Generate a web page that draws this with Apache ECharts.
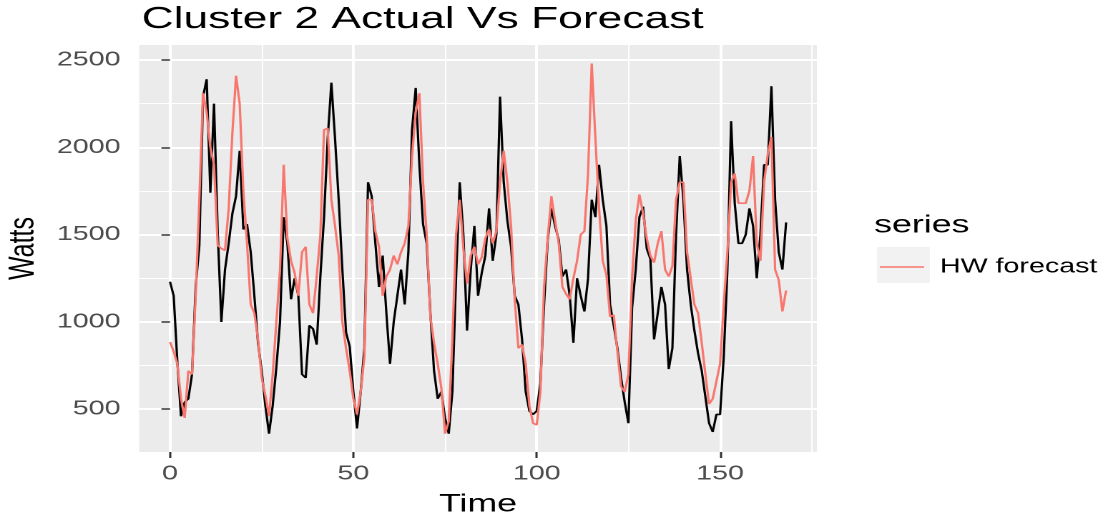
<!DOCTYPE html>
<html><head><meta charset="utf-8">
<script src="https://cdn.jsdelivr.net/npm/echarts@6/dist/echarts.min.js"></script>
<style>
html,body{margin:0;padding:0;background:#fff;overflow:hidden;width:1113px;height:521px;}
#chart{width:778px;height:521px;transform:scaleX(1.4306);transform-origin:0 0;}
</style></head><body><div id="chart"></div>
<script>
const actual = [
1230,1150,770,460,540,560,700,1200,1440,2290,
2390,1740,2250,1520,1000,1300,1450,1620,1720,1980,
1530,1560,1400,1150,880,720,520,360,520,740,
1000,1600,1450,1130,1250,1150,700,680,980,960,
870,1260,1600,2050,2370,2050,1700,1300,940,860,
600,390,600,850,1800,1720,1450,1200,1380,1050,
760,1000,1150,1300,1100,1400,2100,2340,1900,1560,
1450,1050,720,560,600,450,360,600,1250,1800,
1500,950,1300,1550,1150,1280,1380,1650,1350,1500,
2290,1800,1580,1430,1150,1100,900,600,490,470,
490,650,1100,1470,1650,1550,1470,1260,1300,1150,
880,1250,1150,1060,1250,1700,1600,1900,1700,1550,
1100,980,850,680,540,420,1080,1300,1600,1660,
1420,1360,900,1050,1200,1100,730,850,1500,1950,
1700,1300,1100,950,820,720,570,420,370,470,
470,800,1300,2150,1680,1450,1450,1500,1650,1550,
1250,1500,1900,1900,2350,1700,1400,1300,1570
];
const forecast = [
885,830,760,560,450,720,700,1150,1700,2310,
2200,2000,1900,1440,1420,1410,1650,2080,2410,2250,
1750,1450,1100,1050,900,680,580,460,700,1000,
1300,1900,1480,1350,1280,1150,1400,1430,1100,1050,
1260,1500,2100,2110,1700,1550,1380,1000,850,720,
560,470,600,800,1700,1700,1520,1430,1150,1260,
1300,1380,1330,1400,1450,1550,1950,2200,2310,1800,
1500,1030,880,760,620,360,430,900,1500,1700,
1420,1220,1380,1430,1330,1370,1480,1530,1450,1520,
1800,1980,1800,1550,1130,850,870,760,520,420,
410,600,1200,1480,1720,1580,1450,1200,1160,1130,
1250,1350,1500,1520,1850,2480,2050,1650,1350,1270,
1030,1040,830,630,600,700,1250,1580,1730,1620,
1480,1380,1340,1450,1520,1300,1260,1320,1700,1800,
1800,1400,1250,1100,1050,880,700,530,560,660,
760,1100,1400,1800,1850,1680,1680,1680,1750,1950,
1450,1350,1800,1960,2060,1300,1240,1060,1180
];
const xTicks = [0, 50, 100, 150];
const xMinor = [25, 75, 125, 175];
const yTicks = [500, 1000, 1500, 2000, 2500];
const yMinor = [750, 1250, 1750, 2250];
const titleText = 'Cluster 2 Actual Vs Forecast';
const xName = 'Time';
const yName = 'Watts';
const legendTitle = 'series';
const forecastName = 'HW forecast';

const FONT = '"Liberation Sans", Arial, sans-serif';
const plain = v => String(v);
const chart = echarts.init(document.getElementById('chart'), null, {devicePixelRatio: 2});
chart.setOption({
  animation: false,
  backgroundColor: '#ffffff',
  title: [
    {text: titleText, left: 99, top: 4, padding: 0,
     textStyle: {fontFamily: FONT, fontSize: 31, fontWeight: 'normal', color: '#000'}},
    {text: legendTitle, left: 611, top: 213, padding: 0,
     textStyle: {fontFamily: FONT, fontSize: 25, fontWeight: 'normal', color: '#000'}}
  ],
  graphic: [
    {type: 'rect', left: 613, top: 247, z: 0, shape: {width: 37, height: 36}, style: {fill: '#F2F2F2'}}
  ],
  legend: {
    data: [{name: forecastName, icon: 'rect'}], left: 615, top: 257, padding: 0, itemWidth: 31, itemHeight: 1.6,
    selectedMode: false,
    textStyle: {fontFamily: FONT, fontSize: 20, color: '#000', padding: [0, 0, 0, 6]}
  },
  grid: {left: 97.3, right: 207, top: 45, bottom: 69, show: true, backgroundColor: '#EBEBEB', borderWidth: 0,
         containLabel: false, outerBoundsMode: 'none'},
  xAxis: [
    {type: 'value', min: -8.4, max: 176.4, position: 'bottom',
     axisLine: {show: false},
     axisTick: {show: true, length: 6, customValues: xTicks, lineStyle: {color: '#333333', width: 1.5}},
     axisLabel: {customValues: xTicks, formatter: plain, margin: 12, fontSize: 20, color: '#4D4D4D', fontFamily: FONT},
     splitLine: {show: true, lineStyle: {color: '#ffffff', width: 2}},
     name: xName, nameLocation: 'middle', nameGap: 40,
     nameTextStyle: {fontSize: 25, color: '#000', fontFamily: FONT}},
    {type: 'value', min: -8.4, max: 176.4, position: 'top',
     axisLine: {show: false},
     axisTick: {show: false, customValues: xMinor},
     axisLabel: {show: false, customValues: xMinor},
     splitLine: {show: true, lineStyle: {color: '#ffffff', width: 1}}}
  ],
  yAxis: [
    {type: 'value', min: 255, max: 2586, position: 'left',
     axisLine: {show: false},
     axisTick: {show: true, length: 6, customValues: yTicks, lineStyle: {color: '#333333', width: 1.5}},
     axisLabel: {customValues: yTicks, formatter: plain, margin: 13, fontSize: 20, color: '#4D4D4D', fontFamily: FONT},
     splitLine: {show: true, lineStyle: {color: '#ffffff', width: 2}},
     name: yName, nameLocation: 'middle', nameGap: 66,
     nameTextStyle: {fontSize: 25, color: '#000', fontFamily: FONT}},
    {type: 'value', min: 255, max: 2586, position: 'right',
     axisLine: {show: false},
     axisTick: {show: false, customValues: yMinor},
     axisLabel: {show: false, customValues: yMinor},
     splitLine: {show: true, lineStyle: {color: '#ffffff', width: 1}}}
  ],
  series: [
    {name: 'Actual', type: 'line', xAxisIndex: 0, yAxisIndex: 0, symbol: 'none',
     data: actual.map((v, i) => [i, v]), lineStyle: {color: '#000000', width: 1.6}, itemStyle: {color: '#000000'}, z: 2},
    {name: forecastName, type: 'line', xAxisIndex: 0, yAxisIndex: 0, symbol: 'none',
     data: forecast.map((v, i) => [i, v]), lineStyle: {color: '#F8766D', width: 1.6}, itemStyle: {color: '#F8766D'}, z: 3}
  ]
});
</script></body></html>
